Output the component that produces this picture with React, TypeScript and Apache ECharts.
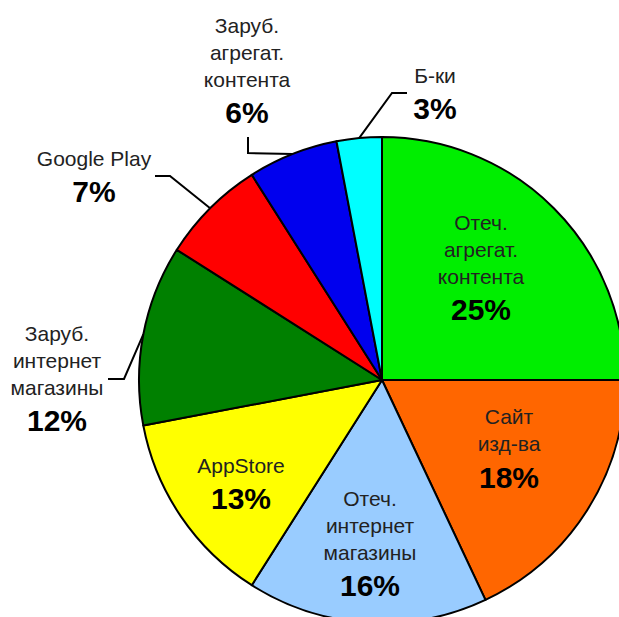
import React, { useEffect, useRef } from "react";
import * as echarts from "echarts";

const categories = [
  "Отеч.\nагрегат.\nконтента",
  "Сайт\nизд-ва",
  "Отеч.\nинтернет\nмагазины",
  "AppStore",
  "Заруб.\nинтернет\nмагазины",
  "Google Play",
  "Заруб.\nагрегат.\nконтента",
  "Б-ки",
];
const values = [25, 18, 16, 13, 12, 7, 6, 3];
const colors = ["#00ee00", "#ff6600", "#99ccff", "#ffff00", "#008000", "#ff0000", "#0000ee", "#00ffff"];
const outside = [false, false, false, false, true, true, true, true];

// label block centers (style) and leader line bends
const labelPos: { x: number; y: number; line?: number[][] }[] = [
  { x: 481, y: 269 },
  { x: 509, y: 450 },
  { x: 370, y: 545 },
  { x: 241, y: 485 },
  { x: 57, y: 380, line: [[124, 379], [108, 379]] },
  { x: 94, y: 178, line: [[170, 176], [155, 176]] },
  { x: 247, y: 72, line: [[248, 153], [248, 137]] },
  { x: 435, y: 95, line: [[392, 93], [407, 93]] },
];

export default function App() {
  const ref = useRef<HTMLDivElement>(null);
  useEffect(() => {
    if (!ref.current) return;
    const chart = echarts.init(ref.current, null, { renderer: "svg" });
    const cx = 382, cy = 380, R = 243;
    const total = values.reduce((a, b) => a + b, 0);
    const data = values.map((v, i) => ({
      name: categories[i],
      value: v,
      itemStyle: { color: colors[i] },
      label: { position: outside[i] ? "outside" : "inside" },
      labelLine: { show: outside[i] },
    }));
    chart.setOption({
      animation: false,
      series: [
        {
          type: "pie",
          center: [cx, cy],
          radius: [0, R],
          startAngle: 90,
          clockwise: true,
          avoidLabelOverlap: false,
          itemStyle: { borderColor: "#000", borderWidth: 2 },
          label: {
            show: true,
            fontFamily: "'Liberation Sans', Arial, sans-serif",
            formatter: (p: any) => {
              const lines = String(p.name).split("\n").map((l: string) => `{n|${l}}`).join("\n");
              return `${lines}\n{p|${p.value}%}`;
            },
            rich: {
              n: { fontSize: 21, lineHeight: 27, color: "#222", fontFamily: "'Liberation Sans', Arial, sans-serif" },
              p: { fontSize: 30, lineHeight: 40, fontWeight: "bold", color: "#000", fontFamily: "'Liberation Sans', Arial, sans-serif" },
            },
          },
          labelLine: { show: true, lineStyle: { color: "#000", width: 2 }, length: 20, length2: 15 },
          labelLayout: (params: any) => {
            const i = params.dataIndex;
            const lp = labelPos[i];
            const res: any = { x: lp.x, y: lp.y, align: "center", verticalAlign: "middle" };
            if (lp.line) {
              let start = params.labelLinePoints && params.labelLinePoints[0];
              if (!start) {
                let cum = 0;
                for (let k = 0; k < i; k++) cum += values[k];
                const mid = ((cum + values[i] / 2) / total) * Math.PI * 2;
                start = [cx + R * Math.sin(mid), cy - R * Math.cos(mid)];
              }
              res.labelLinePoints = [start, lp.line[0], lp.line[1]];
            }
            return res;
          },
          data,
        },
      ],
    });
    return () => chart.dispose();
  }, []);
  return (
    <div
      ref={ref}
      style={{ position: "absolute", left: 0, top: 0, width: 619, height: 617, background: "#fff" }}
    />
  );
}
